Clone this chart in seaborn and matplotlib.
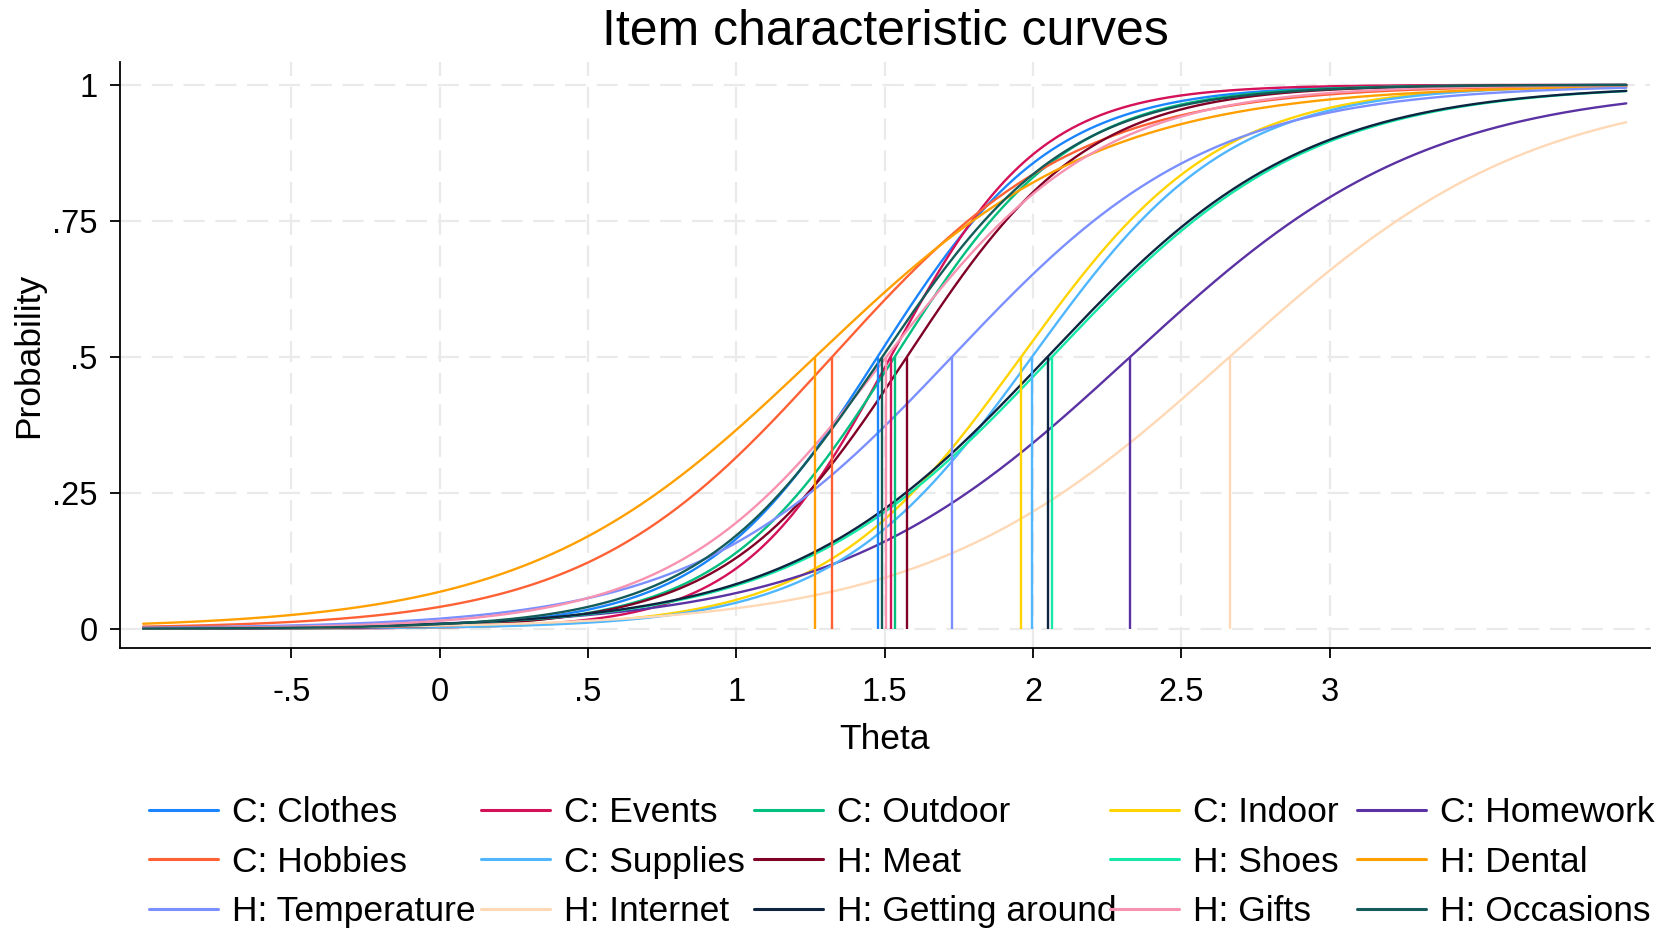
import numpy as np
import pandas as pd
import matplotlib
matplotlib.use("Agg")
import matplotlib.pyplot as plt
import seaborn as sns

# ---- data (item parameters) ----
items = ["C: Clothes", "C: Events", "C: Outdoor", "C: Indoor", "C: Homework",
         "C: Hobbies", "C: Supplies", "H: Meat", "H: Shoes", "H: Dental",
         "H: Temperature", "H: Internet", "H: Getting around", "H: Gifts", "H: Occasions"]
difficulty = [1.476, 1.520, 1.534, 1.960, 2.328,
              1.323, 1.997, 1.575, 2.064, 1.266,
              1.727, 2.663, 2.049, 1.506, 1.492]
discrimination = [3.4, 4.0, 3.4, 3.0, 2.0,
                  2.4, 3.0, 3.3, 2.3, 2.07,
                  2.3, 1.95, 2.3, 2.8, 3.2]
colors = ["#1a85ff", "#d41159", "#00bf7f", "#ffd400", "#5a32a3",
          "#ff6135", "#4fb6ff", "#800026", "#16e8a8", "#ffa000",
          "#7b8fff", "#ffd8b6", "#0e2440", "#f792b0", "#145b5a"]
x_ticks = [-0.5, 0, 0.5, 1, 1.5, 2, 2.5, 3]
x_tick_labels = ["-.5", "0", ".5", "1", "1.5", "2", "2.5", "3"]
y_ticks = [0, 0.25, 0.5, 0.75, 1]
y_tick_labels = ["0", ".25", ".5", ".75", "1"]
theta_min, theta_max = -1.0, 4.0

# ---- build long-form curves from item parameters ----
theta = np.linspace(theta_min, theta_max, 600)
frames = []
for name, a, b in zip(items, discrimination, difficulty):
    p = 1.0 / (1.0 + np.exp(-a * (theta - b)))
    frames.append(pd.DataFrame({"Theta": theta, "Probability": p, "item": name}))
df = pd.concat(frames, ignore_index=True)

sns.set_theme(style="white")
plt.rcParams["font.family"] = ["Liberation Sans", "DejaVu Sans"]
plt.rcParams["text.color"] = "black"
plt.rcParams["axes.labelcolor"] = "black"
plt.rcParams["xtick.color"] = "black"
plt.rcParams["ytick.color"] = "black"

W, H = 1669, 931
fig = plt.figure(figsize=(W / 100, H / 100), dpi=100)
left, right, top, bottom = 120, 1650, 62, 648
ax = fig.add_axes([left / W, 1 - bottom / H, (right - left) / W, (bottom - top) / H])

palette = dict(zip(items, colors))
sns.lineplot(data=df, x="Theta", y="Probability", hue="item", hue_order=items,
             palette=palette, linewidth=1.7, legend=False, ax=ax, zorder=3)
for name, b, c in zip(items, difficulty, colors):
    ax.vlines(b, 0, 0.5, color=c, linewidth=1.7, zorder=3)

ax.set_xlim(-1.078, 4.08)
ax.set_ylim(-0.0355, 1.042)
ax.set_xticks(x_ticks)
ax.set_xticklabels(x_tick_labels)
ax.set_yticks(y_ticks)
ax.set_yticklabels(y_tick_labels)
ax.grid(True, color="#eaeaea", linestyle=(0, (9.5, 4.8)), linewidth=1.6, zorder=0)
ax.set_axisbelow(True)
for s in ["top", "right"]:
    ax.spines[s].set_visible(False)
for s in ["left", "bottom"]:
    ax.spines[s].set_color("black")
    ax.spines[s].set_linewidth(1.3)
ax.tick_params(axis="both", which="major", direction="out", length=7, width=1.3,
               color="black", labelcolor="black", labelsize=23.5,
               left=True, bottom=True)
ax.tick_params(axis="x", pad=14)
ax.tick_params(axis="y", pad=9)
ax.set_xlabel("Theta", fontsize=25.5, labelpad=10.5, color="black")
ax.set_ylabel("Probability", fontsize=25.5, labelpad=5, color="black")
ax.set_title("Item characteristic curves", fontsize=36, pad=12.5, color="black")

# legend: 5 columns, filled row-wise like the reference
handles = [plt.Line2D([], [], color=c, linewidth=2.2) for c in colors]
ncol, nrow = 5, 3
col_x = [149, 481, 754, 1110, 1357]
for j in range(ncol):
    idx = [r * ncol + j for r in range(nrow)]
    fig.legend([handles[i] for i in idx], [items[i] for i in idx],
               ncol=1, loc="upper left", bbox_to_anchor=(col_x[j] / W, 1 - 796 / H),
               frameon=False, fontsize=25.5, handlelength=1.95, handletextpad=0.39,
               labelspacing=0.47, borderpad=0, borderaxespad=0, labelcolor="black")

fig.savefig("out.png", dpi=100, facecolor="white")
